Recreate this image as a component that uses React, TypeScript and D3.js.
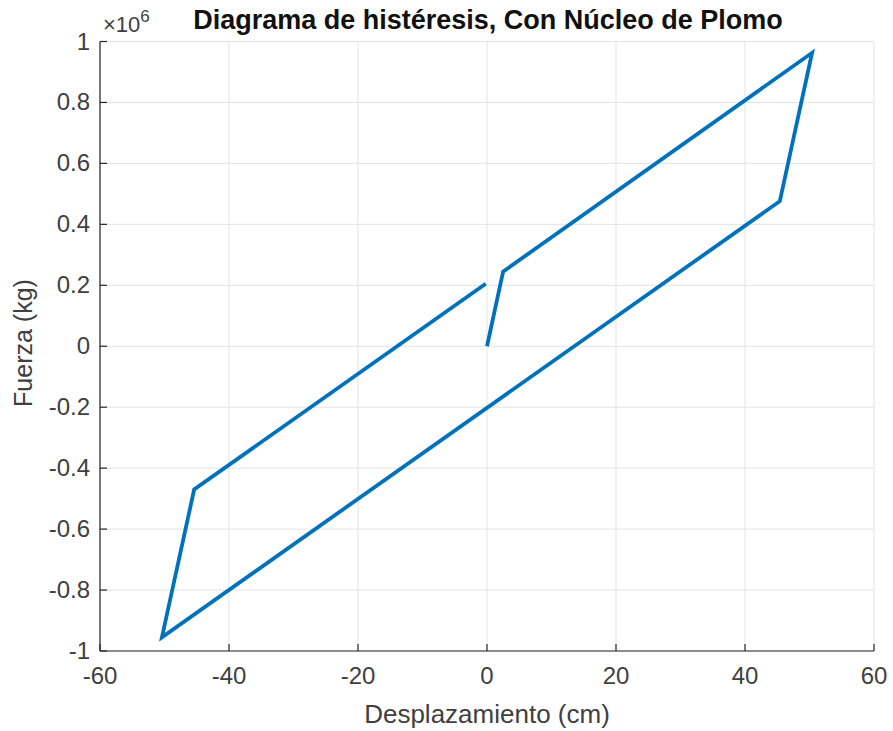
import React from "react";
import * as d3 from "d3";

const dispCm = [0, 2.5, 50.4, 45.4, -50.4, -45.4, -0.2];
const forceKg = [0, 245000, 963000, 476000, -955000, -470000, 205000];
const xTicks = [-60, -40, -20, 0, 20, 40, 60];
const yTicks = [-1, -0.8, -0.6, -0.4, -0.2, 0, 0.2, 0.4, 0.6, 0.8, 1];
const yTickLabels = ["-1", "-0.8", "-0.6", "-0.4", "-0.2", "0", "0.2", "0.4", "0.6", "0.8", "1"];

const W = 893, H = 731;
const M = { left: 100, right: 874, top: 41.5, bottom: 651 };
const FONT = "'Liberation Sans', Arial, Helvetica, sans-serif";

export default function App() {
  const x = d3.scaleLinear().domain([-60, 60]).range([M.left, M.right]);
  const y = d3.scaleLinear().domain([-1, 1]).range([M.bottom, M.top]);
  const pts: [number, number][] = dispCm.map((d, i) => [d, forceKg[i] / 1e6]);
  const line = d3.line<[number, number]>().x(d => x(d[0])).y(d => y(d[1]));
  const axisColor = "#262626";
  const labelColor = "#404040";
  return (
    <svg width={W} height={H} style={{ position: "absolute", left: 0, top: 0, background: "#fff" }}>
      <rect x={0} y={0} width={W} height={H} fill="#fff" />
      {xTicks.map(t => (
        <line key={"gx" + t} x1={x(t)} x2={x(t)} y1={M.top} y2={M.bottom} stroke="#e3e3e3" strokeWidth={1} />
      ))}
      {yTicks.map(t => (
        <line key={"gy" + t} x1={M.left} x2={M.right} y1={y(t)} y2={y(t)} stroke="#e3e3e3" strokeWidth={1} />
      ))}
      <path d={line(pts) || ""} fill="none" stroke="#0072BD" strokeWidth={3.8} strokeLinejoin="miter" />
      <line x1={M.left} x2={M.right} y1={M.bottom} y2={M.bottom} stroke={axisColor} strokeWidth={1.2} />
      <line x1={M.left} x2={M.left} y1={M.top} y2={M.bottom} stroke={axisColor} strokeWidth={1.2} />
      {xTicks.map(t => (
        <g key={"tx" + t}>
          <line x1={x(t)} x2={x(t)} y1={M.bottom} y2={M.bottom - 7} stroke={axisColor} strokeWidth={1.2} />
          <text x={x(t)} y={684} textAnchor="middle" fontFamily={FONT} fontSize={24} fill={labelColor}>{t}</text>
        </g>
      ))}
      {yTicks.map((t, i) => (
        <g key={"ty" + t}>
          <line x1={M.left} x2={M.left + 7} y1={y(t)} y2={y(t)} stroke={axisColor} strokeWidth={1.2} />
          <text x={90} y={y(t) + 8} textAnchor="end" fontFamily={FONT} fontSize={24} fill={labelColor}>{yTickLabels[i]}</text>
        </g>
      ))}
      <text x={103} y={32} fontFamily={FONT} fontSize={22} fill={labelColor}>
        ×10<tspan dy={-10} fontSize={17}>6</tspan>
      </text>
      <text x={488} y={29} textAnchor="middle" fontFamily={FONT} fontSize={27} fontWeight="bold" fill="#111">
        Diagrama de histéresis, Con Núcleo de Plomo
      </text>
      <text x={(M.left + M.right) / 2} y={723} textAnchor="middle" fontFamily={FONT} fontSize={26} fill={labelColor}>
        Desplazamiento (cm)
      </text>
      <text transform={`translate(32, 343) rotate(-90)`} textAnchor="middle" fontFamily={FONT} fontSize={25} fill={labelColor}>
        Fuerza (kg)
      </text>
    </svg>
  );
}
